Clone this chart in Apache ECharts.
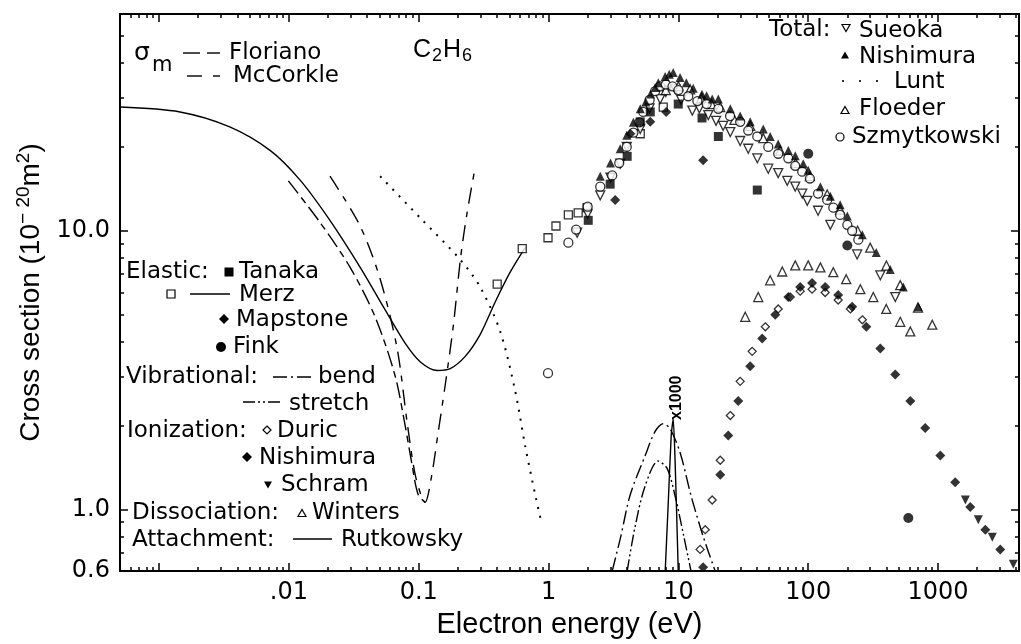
<!DOCTYPE html>
<html>
<head>
<meta charset="utf-8">
<script src="https://cdn.jsdelivr.net/npm/echarts@6/dist/echarts.min.js"></script>
<style>
  html, body { margin: 0; padding: 0; background: #fff; }
  #chart { width: 1021px; height: 644px; }
</style>
</head>
<body>
<div id="chart"></div>
<script>
// Electron scattering cross sections of C2H6, log-log plot.
// Each data array holds [energy in eV, cross section in 1e-20 m^2].

const X_MIN = 0.0005, X_MAX = 4200;
const Y_MIN = 0.6, Y_MAX = 60;
const xTickValues = [0.01, 0.1, 1, 10, 100, 1000];
const xTickLabels = ['.01', '0.1', '1', '10', '100', '1000'];
const xMajorTicks = [0.001, 0.01, 0.1, 1, 10, 100, 1000];
const yTickValues = [0.6, 1, 10];
const yTickLabels = ['0.6', '1.0', '10.0'];
const yMajorTicks = [1, 10];

// momentum transfer cross sections
const florianoMT = [[0.0099,15.1],[0.0174,10.7],[0.0296,7.39],[0.0461,4.91],[0.0658,3.01],[0.0785,2.0],[0.0889,1.44],[0.0989,1.13],[0.112,1.06]];
const mccorkleMT = [[0.0207,15.7],[0.035,10.5],[0.05,6.8],[0.068,3.8],[0.082,2.0],[0.095,1.3],[0.112,1.06],[0.125,1.3],[0.14,1.84],[0.16,2.8],[0.185,4.6],[0.21,8.0],[0.235,11.5],[0.267,16.1]];

// elastic
const tanakaEl = [[2.02,10.9],[2.98,14.7],[4.03,18.5],[5.08,24.6],[6.07,26.7],[9.97,28.5],[15.2,25.4],[20.3,21.8],[40.5,14.0]];
const merzLine = [[0.0005,27.8],[0.00145,26.7],[0.0035,23.6],[0.0072,19.4],[0.0122,15.2],[0.0207,10.9],[0.0354,7.39],[0.0551,5.20],[0.0785,3.95],[0.103,3.38],[0.139,3.15],[0.175,3.2],[0.228,3.54],[0.297,4.24],[0.388,5.55],[0.506,7.10],[0.66,8.70]];
const merzEl = [[0.402,6.43],[0.627,8.63],[0.99,9.44],[1.14,10.4],[1.42,11.4],[1.69,11.6],[1.98,12.1],[5.08,22.3],[7.64,27.8]];
const mapstoneEl = [[3.26,12.9],[4.26,22.3],[6.07,24.6],[8.05,26.7],[15.5,17.9]];
const finkEl = [[100,18.9],[200,8.85],[590,0.93]];

// vibrational excitation (x1000)
const vibBend = [[3.09,0.6],[3.6,0.8],[4.26,1.13],[5.55,1.56],[6.6,1.9],[7.64,2.03],[8.6,1.95],[10.3,1.6],[12.5,1.12],[15.5,0.8],[19.2,0.6]];
const vibStretch = [[4.03,0.6],[4.6,0.85],[5.5,1.2],[6.98,1.49],[8.2,1.4],[9.5,1.1],[11.0,0.8],[12.5,0.6]];

// ionization
const duricIon = [[14.7,0.718],[16.1,0.845],[18.2,1.08],[21.0,1.50],[25.1,2.17],[29.9,2.88],[37.0,3.69],[46.7,4.52],[58.7,5.24],[72.6,5.78],[86.7,6.07],[107,6.17],[135,6.0],[170,5.64],[211,5.24],[261,4.79]];
const nishimuraIon = [[15.5,0.62],[21.0,1.33],[24.2,1.84],[28.9,2.45],[35.7,3.26],[44.2,4.10],[55.7,4.99],[70.2,5.78],[86.7,6.28],[107,6.49],[135,6.28],[170,5.88],[218,5.33],[280,4.52],[359,3.78],[468,3.05],[611,2.45],[796,1.96],[1040,1.56],[1355,1.25],[1770,1.02],[2311,0.845],[3013,0.718]];
const schramIon = [[1622,1.08],[2042,0.918],[2616,0.793],[3796,0.635]];

// dissociation into neutrals
const wintersDiss = [[32.7,4.91],[41.2,5.78],[50.9,6.64],[63.1,7.14],[79.4,7.51],[99.9,7.51],[124,7.39],[156,7.10],[196,6.70],[252,6.17],[317,5.78],[399,5.24],[511,4.71],[611,4.35]];

// dissociative attachment (x1000)
const rutkowskyAtt = [[7.91,0.6],[8.34,1.04],[8.8,1.84],[9.12,2.11],[9.45,1.44],[9.97,0.6]];

// total
const sueokaTot = [[1.66,9.84],[2.0,11.5],[2.50,13.4],[3.0,15.5],[3.56,17.4],[4.0,20.0],[5.08,23.2],[6.0,27.5],[7.24,29.7],[8.0,31.5],[9.45,32.2],[10.5,29.5],[12.8,27.0],[14.5,27.5],[17.0,26.0],[19.5,24.8],[22.1,23.8],[25.1,22.6],[29.9,21.0],[34.5,19.7],[40.5,18.2],[49.2,16.7],[58.7,16.1],[68.9,15.1],[79.4,14.4],[89.9,13.6],[98.3,12.8],[119,11.8],[148,10.5],[238,8.22],[359,6.92],[468,5.78]];
const nishimuraTot = [[2.5,15.7],[3.0,17.5],[3.56,19.7],[4.0,22.0],[4.5,24.5],[5.08,27.4],[5.6,29.0],[6.1,31.0],[6.62,32.7],[7.0,34.0],[7.91,35.8],[8.5,36.5],[9.12,37.0],[10.3,35.5],[11.5,34.0],[13.0,32.5],[15.2,30.9],[16.5,30.5],[18.2,29.7],[20.3,29.7],[25.1,27.4],[29.9,25.8],[35.7,24.6],[45.0,23.2],[50.9,21.8],[58.7,20.5],[70.2,19.4],[79.4,18.6],[91.5,17.4],[99.9,16.5],[124,14.4],[148,13.3],[176,12.4],[200,11.3],[261,9.68],[334,8.36],[428,7.26],[540,6.28],[705,5.33]];
const luntTot = [[0.0504,15.7],[0.103,11.1],[0.208,7.89],[0.297,6.28],[0.424,4.35],[0.553,2.66],[0.66,1.69],[0.788,1.13],[0.877,0.904]];
const floederTot = [[8.0,32.0],[10.0,33.0],[12.3,32.2],[15.0,30.0],[18.0,28.5],[21.0,27.8],[27.0,25.0],[35.7,23.8],[45.0,21.5],[60.8,19.4],[80.0,17.5],[103,15.7],[140,13.5],[176,11.9],[240,10.0],[300,8.70],[400,7.5],[511,6.38],[700,5.3],[902,4.60]];
const szmytkowskiTot = [[0.99,3.08],[1.42,9.06],[1.63,10.1],[2.0,12.2],[2.50,14.4],[3.09,15.8],[3.5,17.5],[4.0,20.0],[4.5,22.5],[5.0,24.5],[5.36,26.7],[6.0,29.5],[6.62,31.7],[7.24,33.0],[8.0,33.5],[9.0,33.0],[10.0,32.0],[11.9,30.4],[14.0,29.2],[16.5,28.5],[20.3,27.4],[25.0,25.8],[29.9,24.6],[34.5,22.9],[40.5,21.8],[49.2,20.0],[58.7,18.9],[70.2,18.2],[79.4,17.1],[89.9,16.3],[103,15.4],[119,13.6],[140,12.9],[156,12.1],[176,11.4],[200,10.5],[218,10.0],[243,9.29]];

const FONT = 'DejaVu Sans';
const AXFONT = 'Liberation Sans';

function minorTicks(lo, hi) {
  const out = [];
  for (let p = -4; p <= 4; p++) {
    for (let k = 2; k <= 9; k++) {
      const v = k * Math.pow(10, p);
      if (v > lo * 1.0001 && v < hi * 0.9999) out.push(v);
    }
  }
  return out;
}
const xMinorTicks = minorTicks(X_MIN, X_MAX);
const yMinorTicks = minorTicks(Y_MIN, Y_MAX);

function labelFor(values, labels) {
  return function (v) {
    for (let i = 0; i < values.length; i++) {
      if (Math.abs(Math.log10(values[i]) - Math.log10(v)) < 1e-6) return labels[i];
    }
    return '';
  };
}

function makeAxis(dim, position, ticks, len, withLine, label) {
  const lim = dim === 'x' ? { min: X_MIN, max: X_MAX } : { min: Y_MIN, max: Y_MAX };
  return {
    type: 'log', logBase: 10, position, gridIndex: 0,
    min: lim.min, max: lim.max,
    axisLine: { show: withLine, onZero: false, lineStyle: { color: '#000', width: 2 } },
    axisTick: { show: true, inside: true, length: len, customValues: ticks, lineStyle: { color: '#000', width: 1.5 } },
    minorTick: { show: false },
    splitLine: { show: false },
    axisLabel: label ? Object.assign({ show: true, color: '#000', fontFamily: FONT, fontSize: 24, showMinLabel: true, showMaxLabel: true }, label) : { show: false },
    silent: true
  };
}

const xAxes = [
  makeAxis('x', 'bottom', xMajorTicks, 8, true, { customValues: xTickValues, formatter: labelFor(xTickValues, xTickLabels), margin: 10 }),
  makeAxis('x', 'bottom', xMinorTicks, 4, false, null),
  makeAxis('x', 'top', xMajorTicks, 8, true, null),
  makeAxis('x', 'top', xMinorTicks, 4, false, null)
];
xAxes[0].name = 'Electron energy (eV)';
xAxes[0].nameLocation = 'middle';
xAxes[0].nameGap = 38;
xAxes[0].nameTextStyle = { fontFamily: AXFONT, fontSize: 29, color: '#000' };

const yAxes = [
  makeAxis('y', 'left', yMajorTicks, 8, true, { customValues: yTickValues, formatter: labelFor(yTickValues, yTickLabels), margin: 10 }),
  makeAxis('y', 'left', yMinorTicks, 4, false, null),
  makeAxis('y', 'right', yMajorTicks, 8, true, null),
  makeAxis('y', 'right', yMinorTicks, 4, false, null)
];
yAxes[0].name = 'Cross section (10{s|− 20}m{s|2})';
yAxes[0].nameLocation = 'middle';
yAxes[0].nameGap = 58;
yAxes[0].nameTextStyle = {
  fontFamily: AXFONT, fontSize: 28, color: '#000',
  rich: { s: { fontFamily: AXFONT, fontSize: 19, color: '#000', padding: [0, 0, 15, 0] } }
};

const OPEN = { color: '#fff', borderColor: '#000', borderWidth: 1.3 };
const FILLED = { color: '#000', borderColor: '#000', borderWidth: 0 };

function markers(name, data, symbol, size, filled, rotate) {
  return {
    type: 'scatter', name, data, symbol, symbolSize: size, symbolRotate: rotate || 0,
    itemStyle: filled ? FILLED : OPEN, silent: true, z: filled ? 4 : 3
  };
}
function curve(name, data, dash, smooth, width) {
  return {
    type: 'line', name, data, symbol: 'none', showSymbol: false, smooth: smooth === undefined ? 0.3 : smooth,
    lineStyle: { color: '#000', width: width || 1.4, type: dash, cap: 'butt' }, silent: true, z: 2
  };
}

const series = [
  curve('Floriano', florianoMT, [16, 5, 7, 5]),
  curve('McCorkle', mccorkleMT, [16, 8, 6, 8]),
  curve('Merz', merzLine, 'solid'),
  curve('bend', vibBend, [14, 4, 2, 4]),
  curve('stretch', vibStretch, [12, 3, 2, 3, 2, 3]),
  curve('Rutkowsky', rutkowskyAtt, 'solid', 0.2),
  curve('Lunt', luntTot, [2, 7], 0.3, 2),
  markers('Merz data', merzEl, 'rect', 8, false),
  markers('Sueoka', sueokaTot, 'triangle', 9, false, 180),
  markers('Floeder', floederTot, 'triangle', 9, false),
  markers('Szmytkowski', szmytkowskiTot, 'circle', 9, false),
  markers('Duric', duricIon, 'diamond', 8, false),
  markers('Winters', wintersDiss, 'triangle', 9, false),
  markers('Tanaka', tanakaEl, 'rect', 9, true),
  markers('Mapstone', mapstoneEl, 'diamond', 10, true),
  markers('Fink', finkEl, 'circle', 10, true),
  markers('Nishimura total', nishimuraTot, 'triangle', 9, true),
  markers('Nishimura ion', nishimuraIon, 'diamond', 10, true),
  markers('Schram', schramIon, 'triangle', 9, true, 180)
];

// in-plot key
const TXT = 23;
function t(x, y, s, size, family, extra) {
  return Object.assign({
    type: 'text', x, y, silent: true,
    style: { text: s, fill: '#000', font: (size || TXT) + 'px "' + (family || FONT) + '"', verticalAlign: 'middle', align: 'left' }
  }, extra || {});
}
function seg(x1, x2, y, dash) {
  return { type: 'line', silent: true, shape: { x1, y1: y, x2, y2: y }, style: { stroke: '#000', lineWidth: 1.4, lineDash: dash || null } };
}
function tri(cx, cy, s, down, filled) {
  const h = s * 0.87;
  const pts = down
    ? [[cx - s / 2, cy - h / 2], [cx + s / 2, cy - h / 2], [cx, cy + h / 2]]
    : [[cx - s / 2, cy + h / 2], [cx + s / 2, cy + h / 2], [cx, cy - h / 2]];
  return { type: 'polygon', silent: true, shape: { points: pts }, style: filled ? { fill: '#000' } : { fill: '#fff', stroke: '#000', lineWidth: 1.2 } };
}
function dia(cx, cy, s, filled) {
  const r = s / 2;
  return { type: 'polygon', silent: true, shape: { points: [[cx, cy - r], [cx + r, cy], [cx, cy + r], [cx - r, cy]] }, style: filled ? { fill: '#000' } : { fill: '#fff', stroke: '#000', lineWidth: 1.2 } };
}
function sq(cx, cy, s, filled) {
  return { type: 'rect', silent: true, shape: { x: cx - s / 2, y: cy - s / 2, width: s, height: s }, style: filled ? { fill: '#000' } : { fill: '#fff', stroke: '#000', lineWidth: 1.2 } };
}
function dot(cx, cy, r, filled) {
  return { type: 'circle', silent: true, shape: { cx, cy, r }, style: filled ? { fill: '#000' } : { fill: '#fff', stroke: '#000', lineWidth: 1.2 } };
}

const graphics = [
  // momentum transfer key
  t(134, 53, 'σ', 25),
  t(152, 66, 'm', 21),
  seg(183, 200, 53), seg(207, 220, 53),
  t(229, 53, 'Floriano'),
  seg(187, 202, 76), seg(213, 220, 76),
  t(233, 76, 'McCorkle'),
  // molecule
  {
    type: 'text', x: 413, y: 50, silent: true,
    style: {
      text: '{n|C}{b|2}{n|H}{b|6}', verticalAlign: 'middle',
      rich: { n: { font: '25px "Liberation Sans"', fill: '#000' }, b: { font: '18px "Liberation Sans"', fill: '#000', padding: [12, 1, 0, 1] } }
    }
  },
  // total key
  t(769, 30, 'Total:'),
  tri(846, 28, 8, true, false), t(859, 31, 'Sueoka'),
  tri(845, 55, 8, false, true), t(859, 57, 'Nishimura'),
  dot(843, 81, 1.1, true), dot(860, 81, 1.1, true), dot(877, 81, 1.1, true), t(894, 82, 'Lunt'),
  tri(845, 110, 8, false, false), t(859, 109, 'Floeder'),
  dot(840, 137, 4, false), t(852, 137, 'Szmytkowski'),
  // left key
  t(126, 272, 'Elastic:'), sq(229, 272, 9, true), t(239, 272, 'Tanaka'),
  sq(171, 294, 8, false), seg(190, 230, 294), t(239, 295, 'Merz'),
  dia(224, 319, 10, true), t(236, 320, 'Mapstone'),
  dot(221, 347, 5, true), t(233, 347, 'Fink'),
  t(126, 377, 'Vibrational:'), seg(273, 313, 377, [14, 4, 2, 4]), t(318, 377, 'bend'),
  seg(243, 283, 402, [12, 3, 2, 3, 2, 3]), t(289, 404, 'stretch'),
  t(127, 431, 'Ionization:'), dia(267, 430, 8, false), t(277, 431, 'Duric'),
  dia(247, 457, 10, true), t(259, 458, 'Nishimura'),
  tri(268, 485, 8, true, true), t(281, 485, 'Schram'),
  t(132, 513, 'Dissociation:'), tri(302, 513, 8, false, false), t(312, 513, 'Winters'),
  t(132, 540, 'Attachment:'), seg(293, 332, 539), t(341, 540, 'Rutkowsky'),
  // scale note for the vibrational and attachment curves
  { type: 'text', x: 669, y: 420, rotation: Math.PI / 2, silent: true,
    style: { text: 'x1000', fill: '#000', font: 'bold 16px "Liberation Sans"', verticalAlign: 'top', align: 'left' } }
];

const chart = echarts.init(document.getElementById('chart'), null, { renderer: 'canvas' });
chart.setOption({
  animation: false,
  backgroundColor: '#fff',
  grid: { left: 120, right: 2, top: 14, bottom: 67, containLabel: false },
  xAxis: xAxes,
  yAxis: yAxes,
  series,
  graphic: graphics
});
</script>
</body>
</html>
